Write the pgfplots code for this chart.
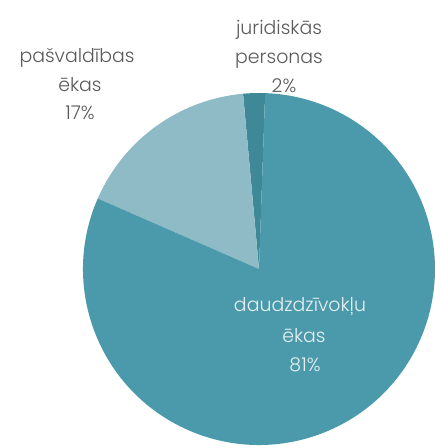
\documentclass[border=0pt]{standalone}
\usepackage{pgfplots}
\pgfplotsset{compat=1.18}
\usepackage{fontspec}
\setmainfont{Poppins}[UprightFont=* Light]
\definecolor{cmain}{HTML}{4B9AAB}
\definecolor{clight}{HTML}{8EBBC5}
\definecolor{cdark}{HTML}{3F8898}
\definecolor{ctext}{HTML}{5A5A5A}
\definecolor{cin}{HTML}{E6F0F2}
\tikzset{lab/.style={font=\fontsize{19}{29}\selectfont, anchor=base, inner sep=0pt}}
\begin{document}
\begin{tikzpicture}
\path[use as bounding box] (0,0) rectangle (435bp,448bp);
\begin{axis}[
  at={(0,0)}, anchor=south west,
  scale only axis, width=435bp, height=448bp,
  xmin=0, xmax=435, ymin=0, ymax=448,
  hide axis, clip=false,
]
% pie: values (percent), drawn counter-clockwise starting at 88 degrees
\global\def\a{88}
\foreach \v/\col in {2/cdark,17/clight,81/cmain}{
  \pgfmathsetmacro{\b}{\a+3.6*\v}
  \edef\temp{\noexpand\fill[\col] (axis cs:259,179) -- ++(\a:176bp) arc[start angle=\a, end angle=\b, radius=176bp] -- cycle;}
  \temp
  \global\let\a\b
}
\node[lab, ctext] at (axis cs:279,413) {juridiskās};
\node[lab, ctext] at (axis cs:279,384) {personas};
\node[lab, ctext] at (axis cs:284,355) {2\%};
\node[lab, ctext] at (axis cs:77,385) {pašvaldības};
\node[lab, ctext] at (axis cs:80,356) {ēkas};
\node[lab, ctext] at (axis cs:80,328) {17\%};
\node[lab, cin] at (axis cs:300,136) {daudzdzīvokļu};
\node[lab, cin] at (axis cs:304,105) {ēkas};
\node[lab, cin] at (axis cs:305,76) {81\%};
\end{axis}
\end{tikzpicture}
\end{document}
